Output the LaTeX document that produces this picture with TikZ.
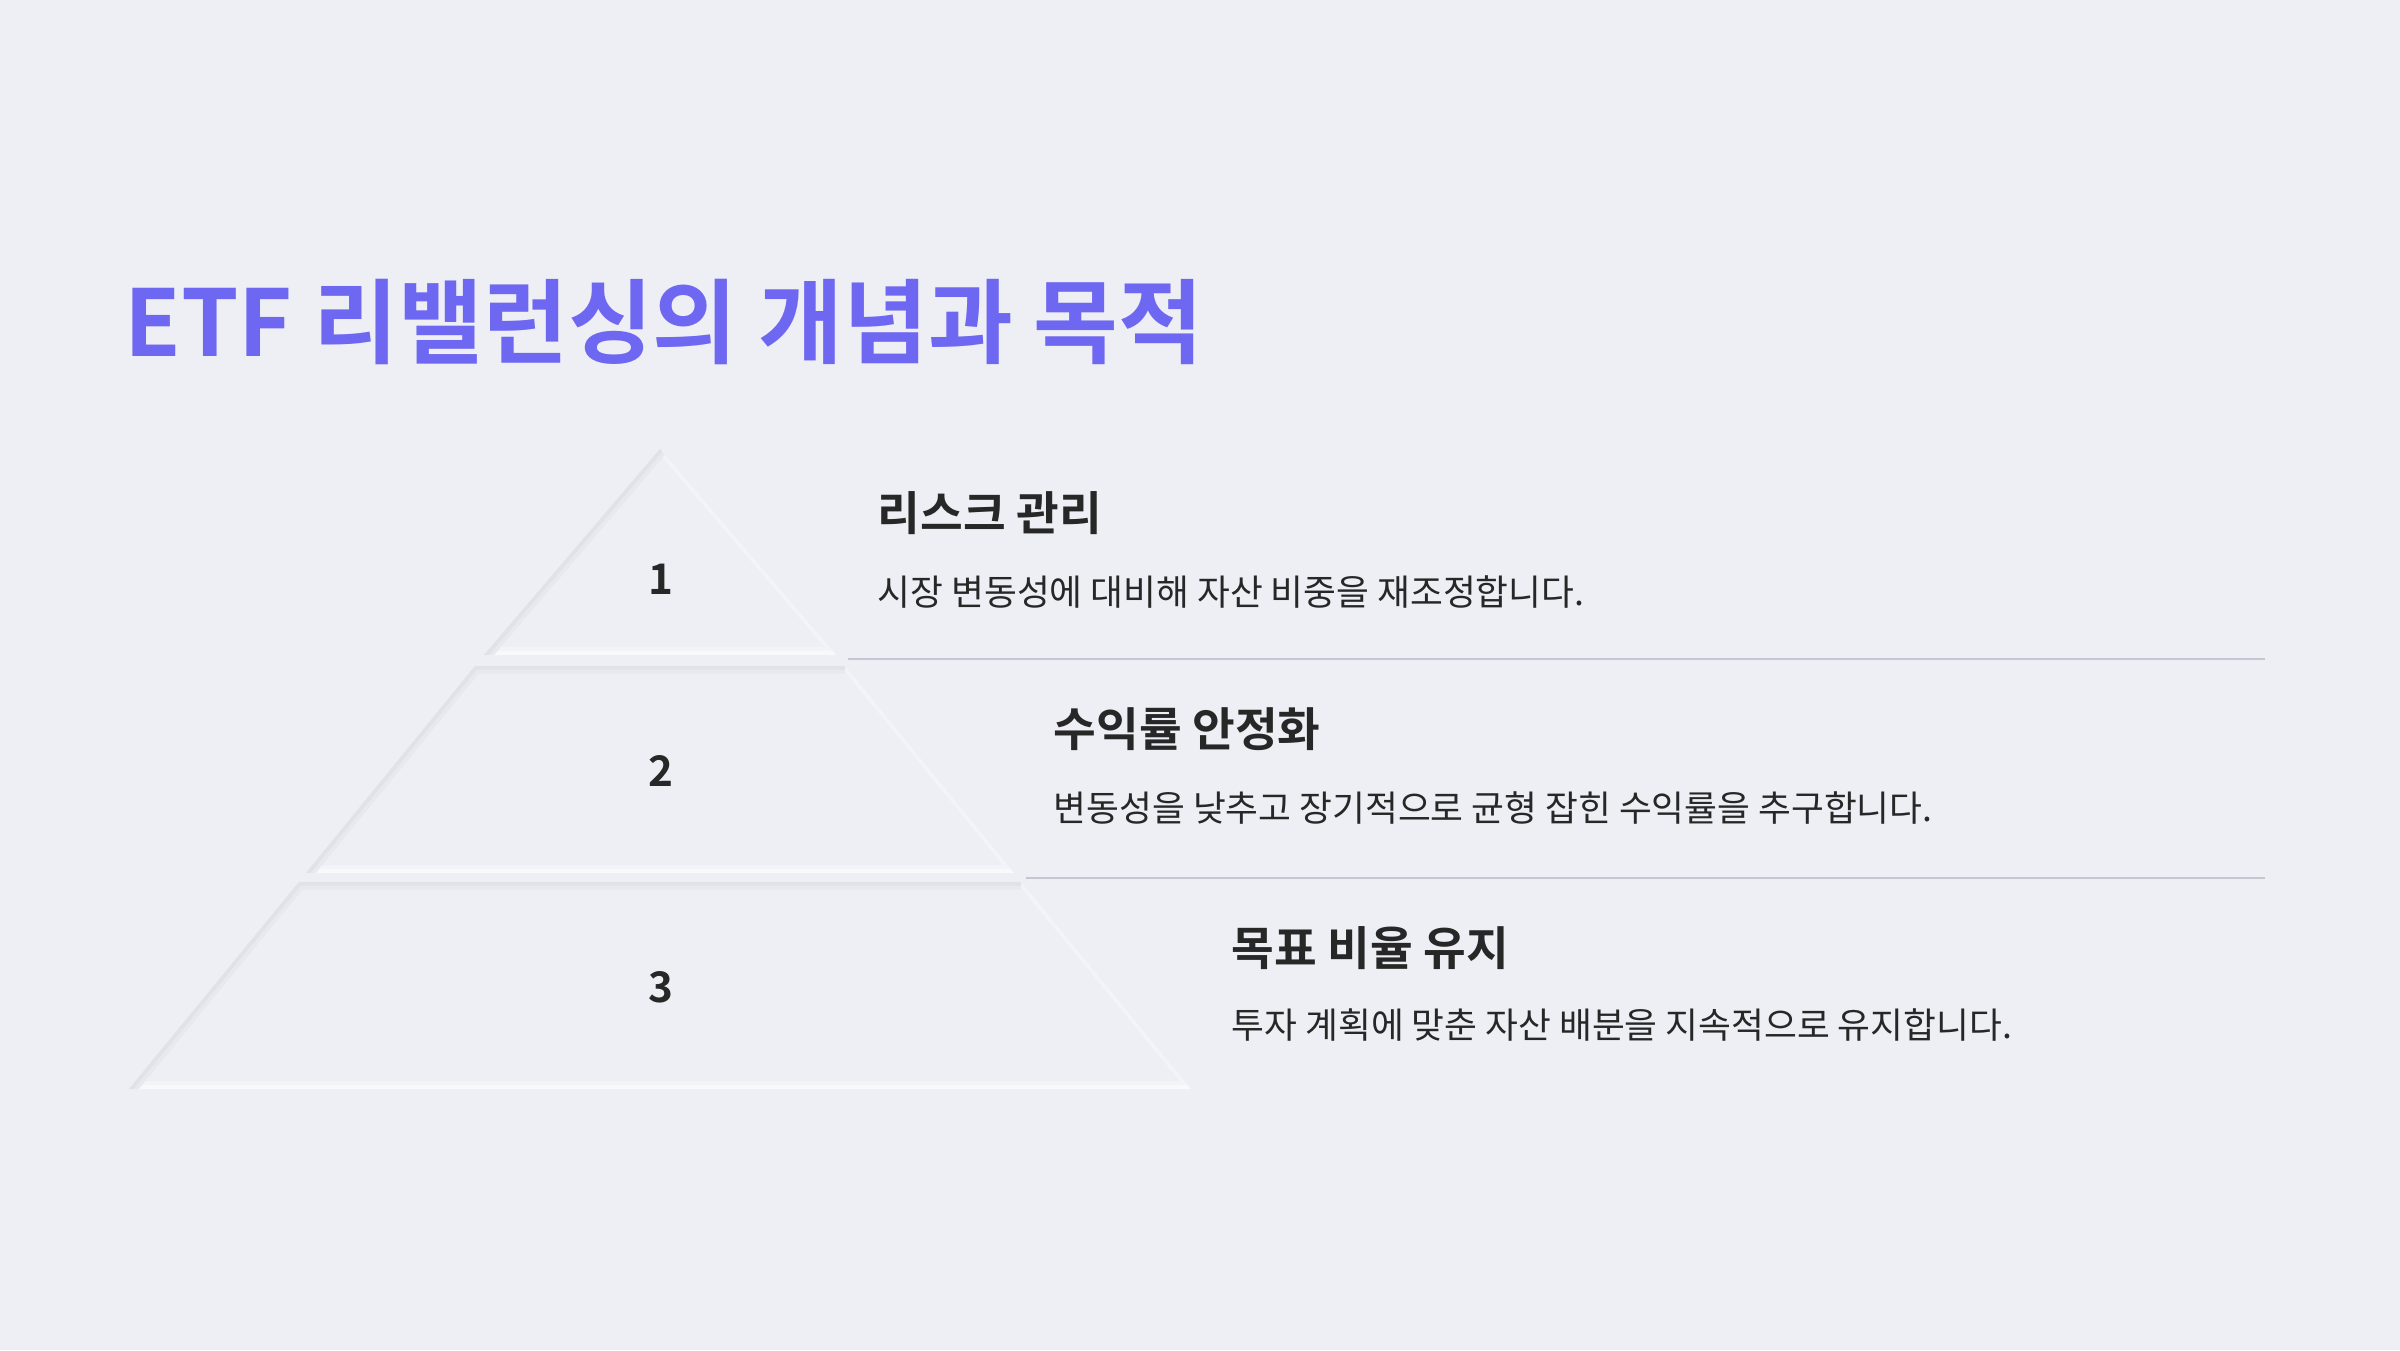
\documentclass[tikz,border=0pt]{standalone}
\usepackage{fontspec}
\newfontfamily\kr{Noto Sans CJK KR}
\newfontfamily\krb{Noto Sans CJK KR Bold}
\definecolor{bg}{HTML}{EEEFF4}
\definecolor{pyrfill}{HTML}{EEEFF4}
\definecolor{shadeA}{HTML}{E8E9EE}
\definecolor{shadeB}{HTML}{E1E2E8}
\definecolor{hiliteA}{HTML}{F3F4F8}
\definecolor{hiliteB}{HTML}{F8F9FB}
\definecolor{titlec}{HTML}{6E67F2}
\definecolor{ink}{HTML}{272727}
\definecolor{sep}{HTML}{C6C6D2}
\tikzset{
  pyr/.style={fill=pyrfill},
  shadowsoft/.style={draw=shadeA, line width=0.15cm, line join=round},
  shadowedge/.style={draw=shadeB, line width=0.07cm, line join=round},
  rightedge/.style={draw=hiliteA, line width=0.07cm},
  bottomsoft/.style={draw=hiliteA, line width=0.16cm},
  bottomedge/.style={draw=hiliteB, line width=0.09cm},
  titletext/.style={anchor=base west, inner sep=0pt, text=titlec, font=\krb\fontsize{26.2}{30}\selectfont},
  headtext/.style={anchor=base west, inner sep=0pt, text=ink, font=\krb\fontsize{13.2}{16}\selectfont},
  desctext/.style={anchor=base west, inner sep=0pt, text=ink, font=\kr\fontsize{10.15}{13}\selectfont},
  numtext/.style={anchor=base, inner sep=0pt, text=ink, font=\krb\fontsize{12}{14}\selectfont},
  sepline/.style={draw=sep, line width=0.02cm}
}
\newcommand\pyrtier[6]{%
  \fill[pyr] (#1,#3) -- (#2,#3) -- (#5,#6) -- (#4,#6) -- cycle;
  \begin{scope}
    \clip (#1,#3) -- (#2,#3) -- (#5,#6) -- (#4,#6) -- cycle;
    \draw[rightedge] (#2,#3) -- (#5,#6);
    \draw[bottomsoft] (#5,#6) -- (#4,#6);
    \draw[bottomedge] (#5,#6) -- (#4,#6);
    \draw[shadowsoft] (#4,#6) -- (#1,#3) -- (#2,#3);
    \draw[shadowedge] (#4,#6) -- (#1,#3) -- (#2,#3);
  \end{scope}}
\begin{document}
\begin{tikzpicture}[x=0.01cm,y=-0.01cm]
\fill[bg] (0,0) rectangle (2400,1350);
\useasboundingbox (0,0) rectangle (2400,1350);
% title
\node[titletext] (title) at (124,356) {ETF 리밸런싱의 개념과 목적};
% pyramid
\pyrtier{660}{660}{449}{484}{836}{655}
\pyrtier{475}{845}{666}{306}{1014}{873}
\pyrtier{299}{1021}{882}{129}{1191}{1089}
\node[numtext] (n1) at (661,594) {1};
\node[numtext] (n2) at (661,786) {2};
\node[numtext] (n3) at (661,1002) {3};
% separators
\coordinate (s1a) at (848,659); \coordinate (s1b) at (2265,659);
\coordinate (s2a) at (1026,878); \coordinate (s2b) at (2265,878);
\draw[sepline] (s1a) -- (s1b);
\draw[sepline] (s2a) -- (s2b);
% texts
\node[headtext] (h1) at (877,530) {리스크 관리};
\node[desctext] (d1) at (877,605) {시장 변동성에 대비해 자산 비중을 재조정합니다.};
\node[headtext] (h2) at (1053,746) {수익률 안정화};
\node[desctext] (d2) at (1053,821) {변동성을 낮추고 장기적으로 균형 잡힌 수익률을 추구합니다.};
\node[headtext] (h3) at (1231,965) {목표 비율 유지};
\node[desctext] (d3) at (1231,1038) {투자 계획에 맞춘 자산 배분을 지속적으로 유지합니다.};
\end{tikzpicture}
\end{document}
